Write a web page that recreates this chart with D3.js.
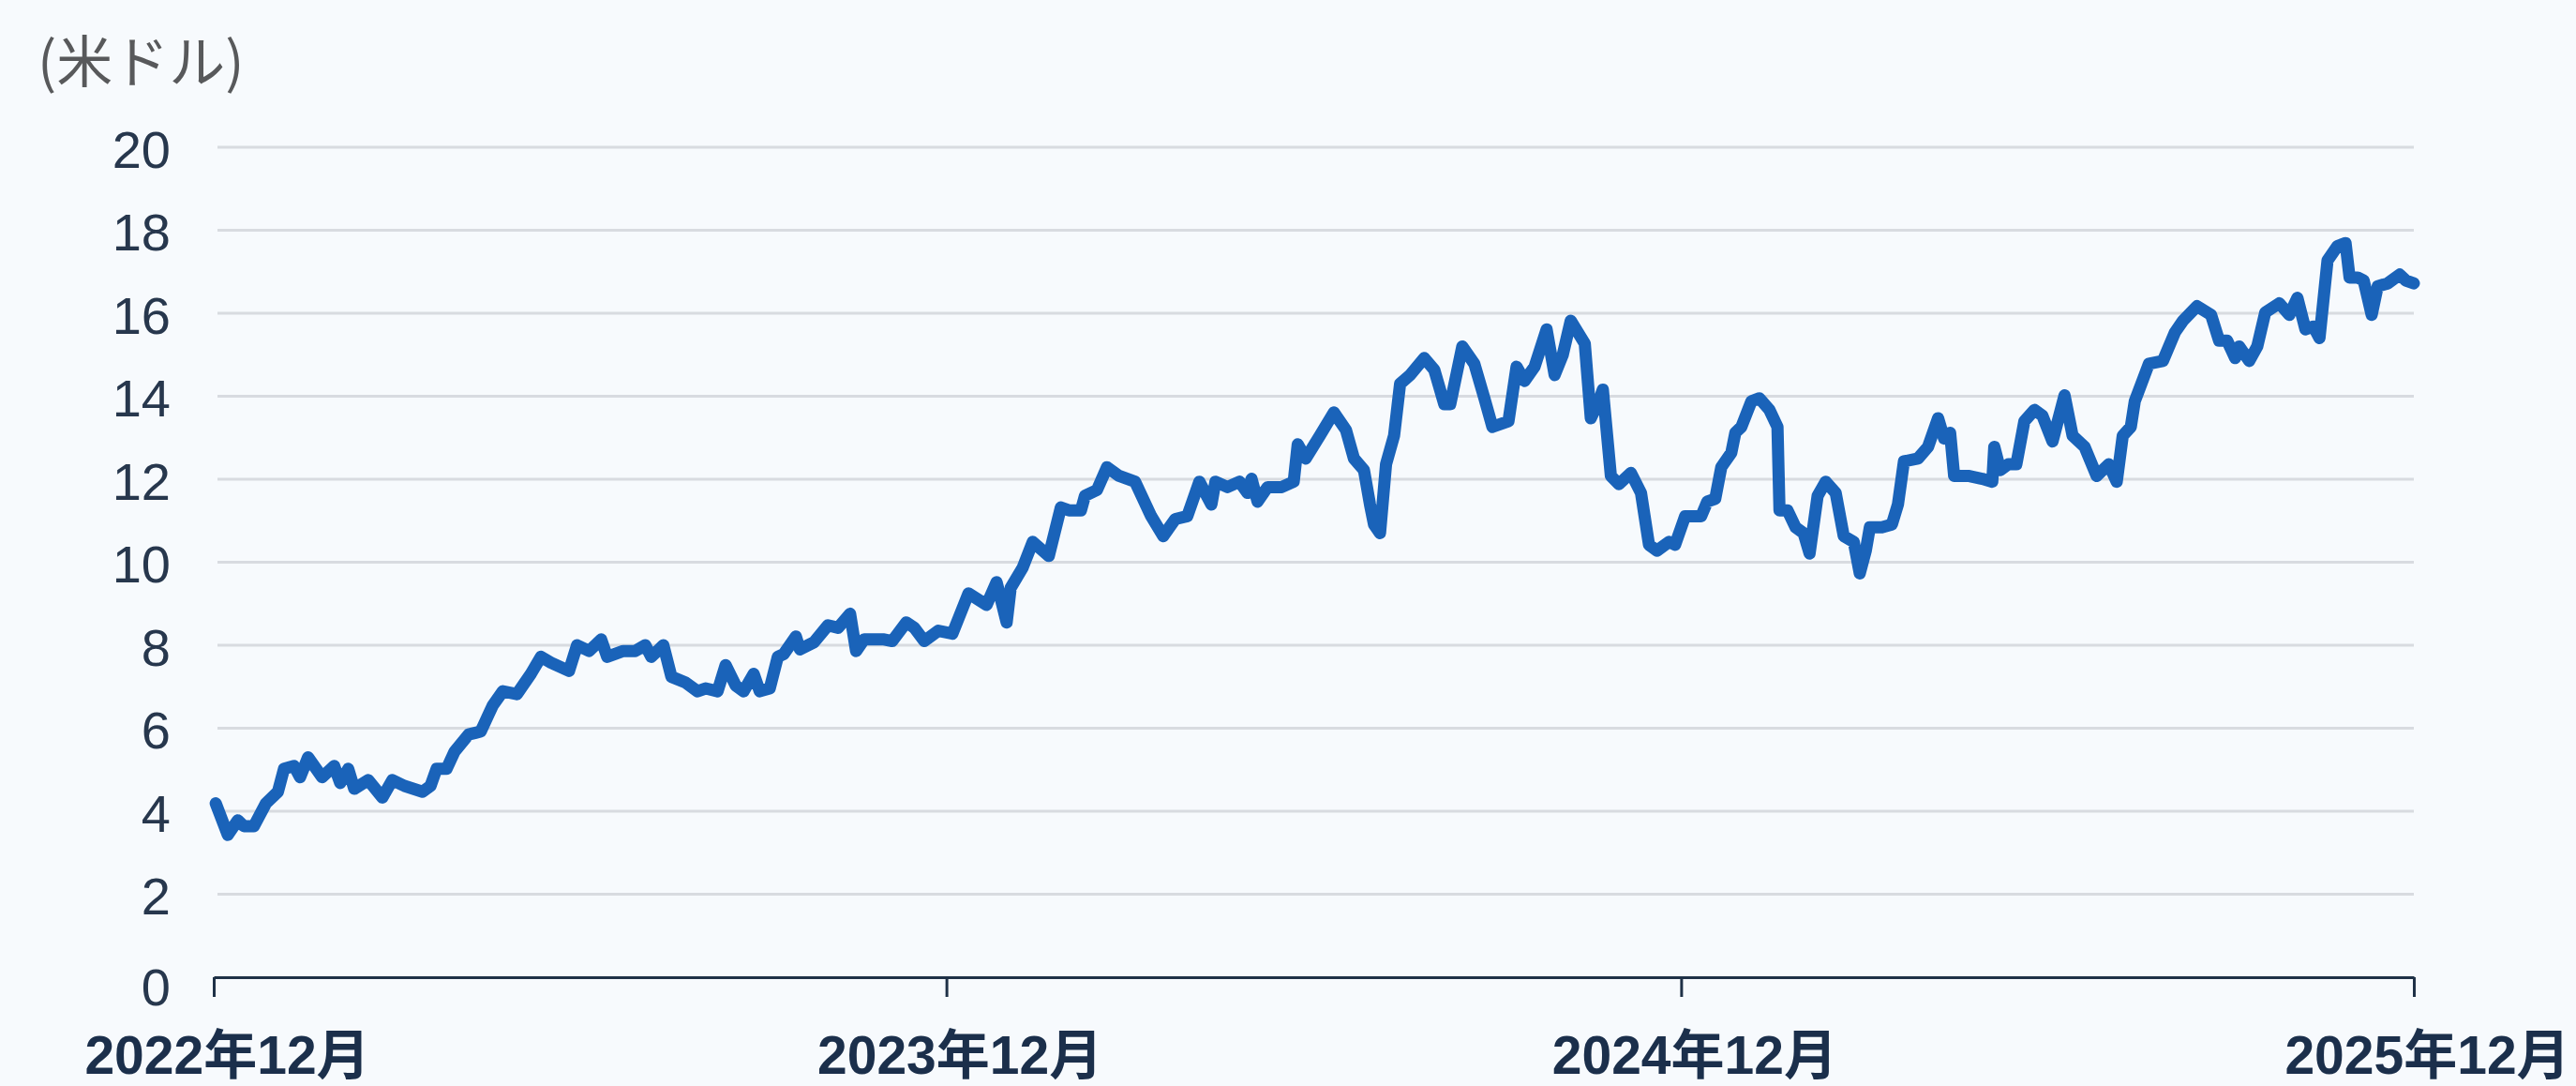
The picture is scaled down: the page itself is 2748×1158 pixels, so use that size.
<!DOCTYPE html>
<html><head><meta charset="utf-8">
<script src="https://cdn.jsdelivr.net/npm/d3@7"></script>
<style>html,body{margin:0;padding:0;background:#f7fafd;overflow:hidden}</style>
</head><body><svg id="c" width="2748" height="1158"></svg>
<script>
const startDate = "2022-12-01";
const endDate = "2025-12-01";
// days since startDate
const dayOffsets = [1,7,12,15,20,26,32,35,40,43,47,54,60,63,67,70,77,84,89,95,104,108,111,116,120,127,133,139,144,151,158,163,168,177,181,187,193,196,204,210,215,218,224,228,235,241,245,251,255,260,264,269,272,277,281,284,290,292,299,306,311,317,320,324,334,338,345,349,354,361,368,376,385,390,395,397,403,408,416,422,426,432,434,440,445,451,459,467,473,479,485,491,497,499,505,511,515,517,520,525,532,538,540,544,551,558,564,568,573,576,578,581,584,588,591,596,603,608,613,616,622,628,633,637,645,649,653,658,664,668,672,676,683,686,690,692,696,700,706,711,715,719,725,728,733,741,744,748,751,756,758,761,766,770,775,779,780,784,788,792,795,799,803,808,812,817,820,823,825,831,836,839,842,849,854,859,862,865,867,874,881,886,887,890,894,898,902,907,911,916,922,926,932,938,944,948,951,955,957,964,971,977,981,988,995,999,1003,1007,1009,1014,1018,1022,1029,1034,1038,1042,1046,1049,1053,1058,1062,1064,1068,1071,1075,1078,1083,1089,1092,1096];
const prices = [4.19,3.43,3.78,3.64,3.64,4.19,4.47,5.02,5.09,4.82,5.30,4.82,5.09,4.68,5.02,4.54,4.75,4.33,4.75,4.61,4.47,4.61,5.02,5.02,5.44,5.85,5.92,6.55,6.89,6.82,7.31,7.72,7.58,7.38,8.00,7.86,8.14,7.72,7.86,7.86,8.00,7.72,8.00,7.24,7.10,6.89,6.96,6.89,7.52,7.03,6.89,7.31,6.89,6.96,7.72,7.79,8.21,7.90,8.07,8.48,8.42,8.76,7.86,8.14,8.14,8.10,8.55,8.42,8.10,8.35,8.28,9.25,8.97,9.52,8.55,9.38,9.87,10.49,10.15,11.32,11.25,11.25,11.60,11.74,12.29,12.08,11.94,11.11,10.63,11.04,11.11,11.94,11.39,11.94,11.81,11.94,11.67,12.01,11.46,11.81,11.81,11.94,12.84,12.50,13.05,13.61,13.19,12.50,12.22,11.39,10.91,10.70,12.36,13.05,14.30,14.51,14.92,14.64,13.81,13.81,15.20,14.78,13.95,13.26,13.40,14.71,14.37,14.71,15.61,14.51,14.99,15.82,15.27,13.47,13.88,14.16,12.08,11.88,12.15,11.67,10.42,10.28,10.49,10.42,11.11,11.11,11.46,11.53,12.29,12.64,13.12,13.26,13.88,13.95,13.67,13.26,11.25,11.25,10.84,10.70,10.21,11.60,11.94,11.67,10.63,10.49,9.73,10.28,10.84,10.84,10.91,11.39,12.43,12.50,12.78,13.47,12.98,13.12,12.08,12.08,12.01,11.94,12.78,12.22,12.36,12.36,13.40,13.67,13.53,12.91,14.02,13.05,12.78,12.08,12.36,11.94,13.05,13.26,13.88,14.78,14.85,15.54,15.82,16.17,15.96,15.34,15.34,14.92,15.20,14.85,15.20,16.02,16.24,15.96,16.37,15.61,15.68,15.40,17.27,17.62,17.69,16.86,16.86,16.79,15.96,16.65,16.72,16.93,16.79,16.72];
const yTicks = [0,2,4,6,8,10,12,14,16,18,20];
const xTickDates = ["2022-12-01","2023-12-01","2024-12-01","2025-12-01"];
const xTickLabels = ["2022年12月","2023年12月","2024年12月","2025年12月"];
const unitLabel = "(米ドル)";

const parse = d3.utcParse("%Y-%m-%d");
const t0 = parse(startDate);
const data = dayOffsets.map((d,i)=>({date: d3.utcDay.offset(t0, d), value: prices[i]}));

const W = 2748, H = 1158;
const m = {left:228, right:173, top:157, bottom:116};
const svg = d3.select("#c");
svg.append("rect").attr("width",W).attr("height",H).attr("fill","#f7fafd");

const x = d3.scaleUtc().domain([t0, parse(endDate)]).range([m.left, W-m.right]);
const y = d3.scaleLinear().domain([0,20]).range([H-m.bottom, m.top]);

// gridlines
svg.append("g").selectAll("line").data(yTicks.filter(v=>v>0)).join("line")
  .attr("x1", m.left+4).attr("x2", W-m.right)
  .attr("y1", d=>y(d)).attr("y2", d=>y(d))
  .attr("stroke","#d8dbe0").attr("stroke-width",3);

// y axis labels
const yAxis = svg.append("g").attr("transform",`translate(${m.left},0)`)
  .call(d3.axisLeft(y).tickValues(yTicks).tickSize(0).tickPadding(46));
yAxis.select(".domain").remove();
yAxis.selectAll("text").attr("font-family","'Liberation Sans', Arial, sans-serif")
  .attr("font-size",56).attr("fill","#27374d")
  .attr("dy", d => d === 0 ? "0.52em" : "0.38em");

// x axis
const xAxis = svg.append("g").attr("transform",`translate(0,${y(0)})`)
  .call(d3.axisBottom(x).tickValues(xTickDates.map(parse)).tickSize(21).tickSizeOuter(0).tickPadding(42)
    .tickFormat((d,i)=>xTickLabels[i]));
xAxis.select(".domain").attr("stroke","#1f3147").attr("stroke-width",3);
xAxis.selectAll(".tick line").attr("stroke","#1f3147").attr("stroke-width",3);
xAxis.selectAll("text").attr("font-family","'Liberation Sans', 'Noto Sans CJK JP', sans-serif")
  .attr("font-weight","bold").attr("font-size",57).attr("fill","#1b2f4b").attr("dx",14);

// line
const line = d3.line().x(d=>x(d.date)).y(d=>y(d.value));
svg.append("path").datum(data).attr("d",line)
  .attr("fill","none").attr("stroke","#1a63b9").attr("stroke-width",13)
  .attr("stroke-linejoin","round").attr("stroke-linecap","round");

// unit label
svg.append("text").attr("x",40).attr("y",61).attr("dominant-baseline","central")
  .attr("font-family","'Noto Sans CJK JP', sans-serif").attr("font-size",60)
  .attr("fill","#58595b").text(unitLabel);
</script></body></html>
